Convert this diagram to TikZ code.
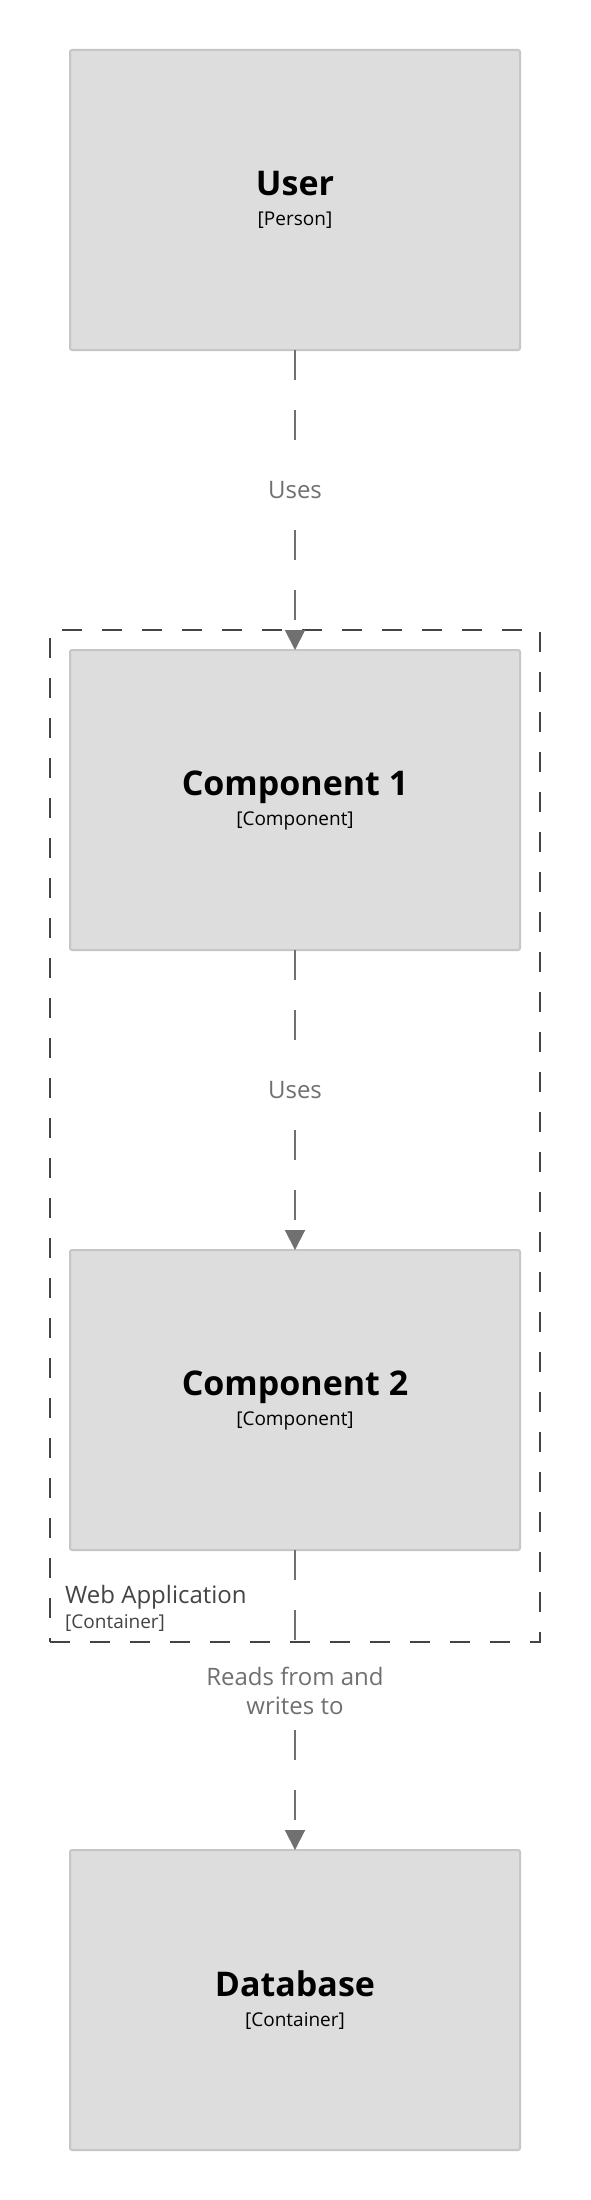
\documentclass[tikz,border=0pt]{standalone}
\usepackage{fontspec}
\setmainfont{Open Sans}
\usetikzlibrary{arrows.meta, positioning, fit}

\definecolor{boxfill}{HTML}{DDDDDD}
\definecolor{boxedge}{HTML}{C6C6C6}
\definecolor{relgray}{HTML}{707070}
\definecolor{bndgray}{HTML}{444444}

\newcommand{\namefont}{\fontsize{34}{40}\selectfont\bfseries}
\newcommand{\metafont}{\fontsize{19}{30}\selectfont}
\newcommand{\relfont}{\fontsize{24}{29}\selectfont}

\begin{document}
\begin{tikzpicture}[
    x=1pt, y=-1pt,
    elem/.style={draw=boxedge, fill=boxfill, line width=2pt, rounded corners=2pt,
                 minimum width=450pt, minimum height=300pt, outer sep=0pt,
                 align=center, font=\metafont},
    rel/.style={draw=relgray, line width=2pt, dash pattern=on 30pt off 30pt,
                -{Triangle[width=20pt, length=20pt]}},
    lbl/.style={font=\relfont, text=relgray, fill=white, align=center,
                inner xsep=10pt, inner ysep=14pt},
    bnd/.style={draw=bndgray, line width=2pt, dash pattern=on 20pt off 20pt,
                inner sep=20pt, outer sep=0pt},
    bndlbl/.style={text=bndgray, anchor=base west, inner sep=0pt},
    node distance=300pt
  ]

  \fill[white] (0,0) rectangle (590,2200);
  \useasboundingbox (0,0) rectangle (590,2200);

  % elements
  \node[elem] (user) at (295,200) {{\namefont User}\\{}[Person]};
  \node[elem, below=of user]  (comp1) {{\namefont Component 1}\\{}[Component]};
  \node[elem, below=of comp1] (comp2) {{\namefont Component 2}\\{}[Component]};
  \node[elem, below=of comp2] (db)    {{\namefont Database}\\{}[Container]};

  % container boundary
  \coordinate (bndfoot) at (295,1622);
  \node[bnd, fit=(comp1)(comp2)(bndfoot)] (webapp) {};
  \node[bndlbl, font=\relfont]  (webname) at ([xshift=15pt, yshift=39pt]webapp.south west) {Web Application};
  \node[bndlbl, font=\metafont] (webtype) at ([xshift=15pt, yshift=14pt]webapp.south west) {[Container]};

  % relationships
  \draw[rel] (user)  -- node[lbl, yshift=10pt] {Uses} (comp1);
  \draw[rel] (comp1) -- node[lbl, yshift=10pt] {Uses} (comp2);
  \draw[rel] (comp2) -- node[lbl, yshift=9pt] {Reads from and\\writes to} (db);

\end{tikzpicture}
\end{document}
